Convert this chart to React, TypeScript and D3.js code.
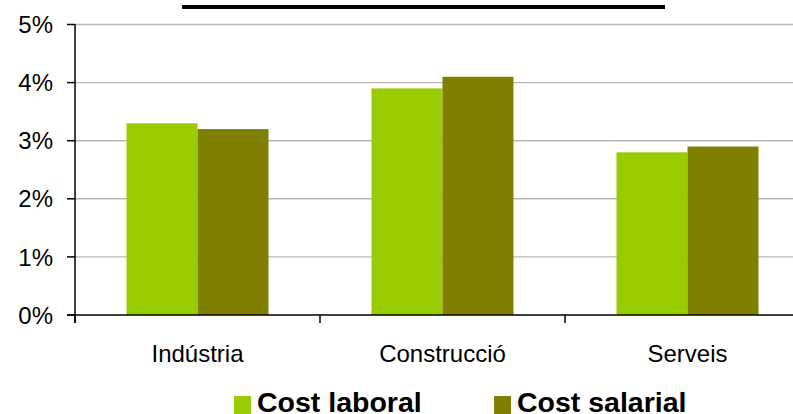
import React from "react";
import * as d3 from "d3";

const categories = ["Indústria", "Construcció", "Serveis"];
const seriesNames = ["Cost laboral", "Cost salarial"];
const costLaboral = [3.3, 3.9, 2.8];
const costSalarial = [3.2, 4.1, 2.9];
const yTicks = [0, 1, 2, 3, 4, 5];
const colors = ["#99CC00", "#808000"];

const W = 793;
const H = 414;

export default function App() {
  const x0 = d3.scaleBand<string>().domain(categories).range([75, 810]).paddingInner(0).paddingOuter(0);
  const groupW = 142;
  const x1 = d3.scaleBand<string>().domain(seriesNames).range([0, groupW]).padding(0);
  const y = d3.scaleLinear().domain([0, 5]).range([315, 24.5]);
  const series = [costLaboral, costSalarial];
  const font = "Arial, 'Liberation Sans', sans-serif";

  return (
    <div style={{ position: "absolute", left: 0, top: 0 }}>
      <svg width={W} height={H} style={{ display: "block", background: "#fff" }}>
        {/* title underline (title itself is cropped off) */}
        <rect x={182} y={5} width={483} height={4} fill="#000" />
        {/* gridlines */}
        {yTicks.filter((t) => t > 0).map((t) => (
          <line key={t} x1={75} x2={W} y1={y(t)} y2={y(t)} stroke="#b8b8b8" strokeWidth={1.4} />
        ))}
        {/* bars */}
        {categories.map((c, i) => {
          const gx = x0(c)! + (x0.bandwidth() - groupW) / 2;
          return seriesNames.map((s, j) => (
            <rect
              key={c + s}
              x={gx + x1(s)!}
              y={y(series[j][i])}
              width={x1.bandwidth()}
              height={y(0) - y(series[j][i])}
              fill={colors[j]}
            />
          ));
        })}
        {/* axes */}
        <line x1={75} x2={75} y1={24} y2={323} stroke="#000" strokeWidth={1.5} />
        <line x1={67} x2={W} y1={315} y2={315} stroke="#000" strokeWidth={1.5} />
        {yTicks.map((t) => (
          <g key={"yt" + t}>
            <line x1={67} x2={75} y1={y(t)} y2={y(t)} stroke="#000" strokeWidth={1.5} />
            <text x={53} y={y(t)} dy="0.36em" textAnchor="end" fontFamily={font} fontSize={24} fill="#000">
              {t}%
            </text>
          </g>
        ))}
        {categories.map((c, i) => (
          <line key={"xt" + c} x1={x0(c)!} x2={x0(c)!} y1={315} y2={323} stroke="#000" strokeWidth={1.5} />
        ))}
        {categories.map((c) => (
          <text key={"xl" + c} x={x0(c)! + x0.bandwidth() / 2} y={362} textAnchor="middle" fontFamily={font} fontSize={24} fill="#000">
            {c}
          </text>
        ))}
        {/* legend */}
        {seriesNames.map((s, j) => {
          const lx = [234, 494][j];
          return (
            <g key={"lg" + s}>
              <rect x={lx} y={396} width={17} height={18} fill={colors[j]} />
              <text x={lx + 23} y={412} fontFamily={font} fontSize={28.5} fontWeight="bold" fill="#000">
                {s}
              </text>
            </g>
          );
        })}
      </svg>
    </div>
  );
}
